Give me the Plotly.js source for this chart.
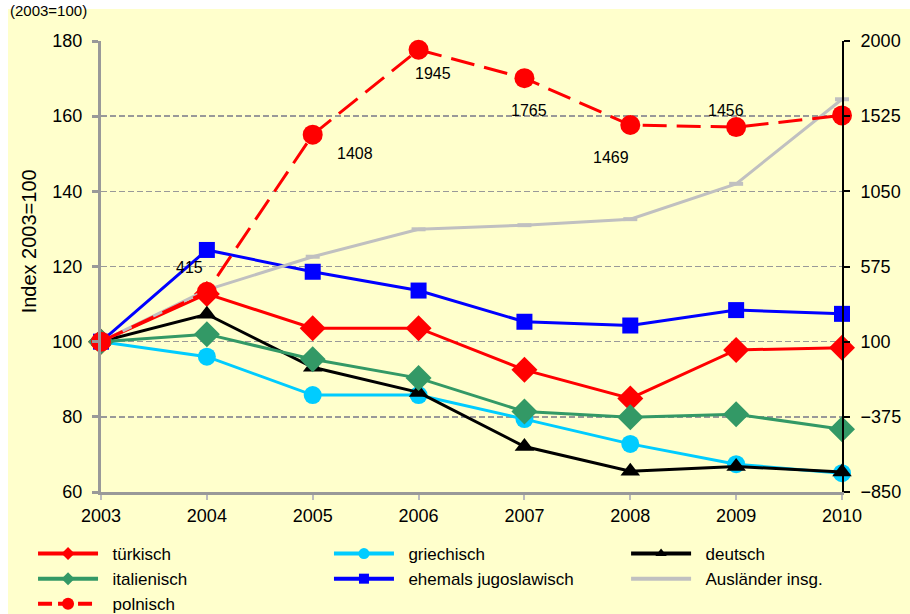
<!DOCTYPE html>
<html>
<head>
<meta charset="utf-8">
<script src="https://cdn.plot.ly/plotly-3.0.1.min.js"></script>
<style>
html,body{margin:0;padding:0;background:#ffffff;}
#chart{width:910px;height:614px;}
</style>
</head>
<body>
<div id="chart"></div>
<script>
// ---- data ----
const years = [2003, 2004, 2005, 2006, 2007, 2008, 2009, 2010];
const tuerkisch     = [100, 112.7, 103.6, 103.6, 92.5, 84.9, 97.8, 98.4];
const griechisch    = [100, 96.0, 85.8, 85.8, 79.4, 72.8, 67.4, 65.0];
const deutsch       = [100, 107.3, 93.2, 86.5, 72.1, 65.5, 66.8, 65.3];
const italienisch   = [100, 102.0, 95.3, 90.3, 81.4, 79.9, 80.7, 76.7];
const jugoslawisch  = [100, 124.4, 118.6, 113.6, 105.3, 104.3, 108.4, 107.4];
const auslaender    = [100, 113.8, 122.6, 129.9, 131.0, 132.6, 142.0, 164.5];
const polnisch      = [100, 415, 1408, 1945, 1765, 1469, 1456, 1530];
const polnischLabels = ['', '415', '1408', '1945', '1765', '1469', '1456', ''];
const seriesNames = ['türkisch', 'griechisch', 'deutsch', 'italienisch',
                     'ehemals jugoslawisch', 'Ausländer insg.', 'polnisch'];
const leftTicks  = [60, 80, 100, 120, 140, 160, 180];
const rightTicks = [-850, -375, 100, 575, 1050, 1525, 2000];
const yTitle = 'Index 2003=100';
const subTitle = '(2003=100)';

// ---- styles ----
const labelShift = [[0,0], [-17,24], [42,-19], [14,-24], [5,-32], [-19,-32], [-10,17], [0,0]];
const FONT = 'Arial, "Liberation Sans", sans-serif';
const styles = [
  {color: '#FF0000', symbol: 'diamond', size: 20, lsize: 10, legend: 'legend'},
  {color: '#00CCFF', symbol: 'circle', size: 18, lsize: 11, legend: 'legend2'},
  {color: '#000000', symbol: 'triangle-up', size: 17, lsize: 10, legend: 'legend3'},
  {color: '#339966', symbol: 'diamond', size: 20, lsize: 10, legend: 'legend'},
  {color: '#0000FF', symbol: 'square', size: 16, lsize: 10, legend: 'legend2'},
  {color: '#C0C0C0', symbol: 'line-ew', size: 10, lsize: 0, legend: 'legend3'},
  {color: '#FF0000', symbol: 'circle', size: 20, lsize: 12, legend: 'legend'}
];
const seriesData = [tuerkisch, griechisch, deutsch, italienisch, jugoslawisch, auslaender, polnisch];

const traces = [];
seriesData.forEach((ys, i) => {
  const s = styles[i];
  const isPl = (i === 6);
  const lineStyle = {color: s.color, width: 3};
  if (isPl) lineStyle.dash = '24px,10px';
  const marker = {color: s.color, symbol: s.symbol, size: s.size,
                  line: s.symbol === 'line-ew' ? {color: s.color, width: 4} : {width: 0}};
  traces.push({
    x: years, y: ys, name: seriesNames[i], type: 'scatter', mode: 'lines+markers',
    line: lineStyle, marker: marker, cliponaxis: false, showlegend: false,
    yaxis: isPl ? 'y2' : 'y'
  });
});
// legend entries (small legend symbols, as in the reference)
seriesData.forEach((ys, i) => {
  const s = styles[i];
  const lineStyle = {color: s.color, width: 4};
  if (i === 6) lineStyle.dash = '14px,6px';
  traces.push({
    x: [null], y: [null], name: '\u00a0\u00a0' + seriesNames[i], type: 'scatter',
    mode: s.lsize ? 'lines+markers' : 'lines', legend: s.legend,
    line: lineStyle, marker: {color: s.color, symbol: s.symbol, size: s.lsize, line: {width: 0}},
    showlegend: true, hoverinfo: 'skip'
  });
});

const annotations = polnisch.map((v, i) => ({
  x: years[i], y: v, xref: 'x', yref: 'y2', text: polnischLabels[i],
  showarrow: false, xshift: labelShift[i][0], yshift: labelShift[i][1],
  font: {family: FONT, size: 16, color: '#000000'}
})).filter(a => a.text !== '');

annotations.push({
  xref: 'paper', yref: 'paper', x: -0.1255, y: 1.092, xanchor: 'left', yanchor: 'top',
  text: subTitle, showarrow: false, font: {family: FONT, size: 15, color: '#000000'}
});
annotations.push({
  xref: 'paper', yref: 'paper', x: -0.097, y: 0.556, xanchor: 'center', yanchor: 'middle',
  text: yTitle, textangle: -90, showarrow: false,
  font: {family: FONT, size: 20, color: '#000000'}
});

function legendAt(x) {
  return {
    orientation: 'v', xref: 'container', yref: 'container',
    x: x, xanchor: 'left', y: 0.127, yanchor: 'top',
    bgcolor: 'rgba(0,0,0,0)', font: {family: FONT, size: 17},
    itemwidth: 60, tracegroupgap: 0, traceorder: 'normal'
  };
}

const layout = {
  width: 910, height: 614,
  margin: {l: 101, r: 68, t: 41, b: 122, pad: 0, autoexpand: false},
  paper_bgcolor: '#FFFFFF',
  plot_bgcolor: '#FFFFCC',
  font: {family: FONT, size: 18, color: '#000000'},
  showlegend: true,
  shapes: [{
    type: 'rect', xref: 'paper', yref: 'paper', layer: 'below',
    x0: -0.1255, x1: 1.095, y0: -0.275, y1: 1.071,
    fillcolor: '#FFFFCC', line: {width: 0}
  }],
  xaxis: {
    range: [2003, 2010], tickvals: years, ticktext: years.map(String),
    showgrid: false, zeroline: false,
    showline: true, linecolor: '#999999', linewidth: 3,
    ticks: 'outside', ticklen: 5, tickwidth: 2, tickcolor: '#BBBBBB',
    tickfont: {family: FONT, size: 18}, fixedrange: true
  },
  yaxis: {
    range: [60, 180], tickvals: leftTicks,
    showgrid: true, gridcolor: '#999999', gridwidth: 1.5, griddash: '6px,3px',
    zeroline: false, showline: true, linecolor: '#999999', linewidth: 3,
    ticks: 'outside', ticklen: 6, tickwidth: 3, tickcolor: '#999999',
    ticklabelstandoff: 6,
    tickfont: {family: FONT, size: 18}
  },
  yaxis2: {
    range: [-850, 2000], tickvals: rightTicks, overlaying: 'y', side: 'right',
    showgrid: false, zeroline: false, showline: true, linecolor: '#000000', linewidth: 2,
    ticks: 'outside', ticklen: 6, tickwidth: 2, tickcolor: '#000000',
    ticklabelstandoff: 7,
    tickfont: {family: FONT, size: 18}
  },
  legend: legendAt(0.0363),
  legend2: legendAt(0.3615),
  legend3: legendAt(0.688),
  annotations: annotations
};

Plotly.newPlot('chart', traces, layout, {displayModeBar: false, staticPlot: true});
</script>
</body>
</html>
